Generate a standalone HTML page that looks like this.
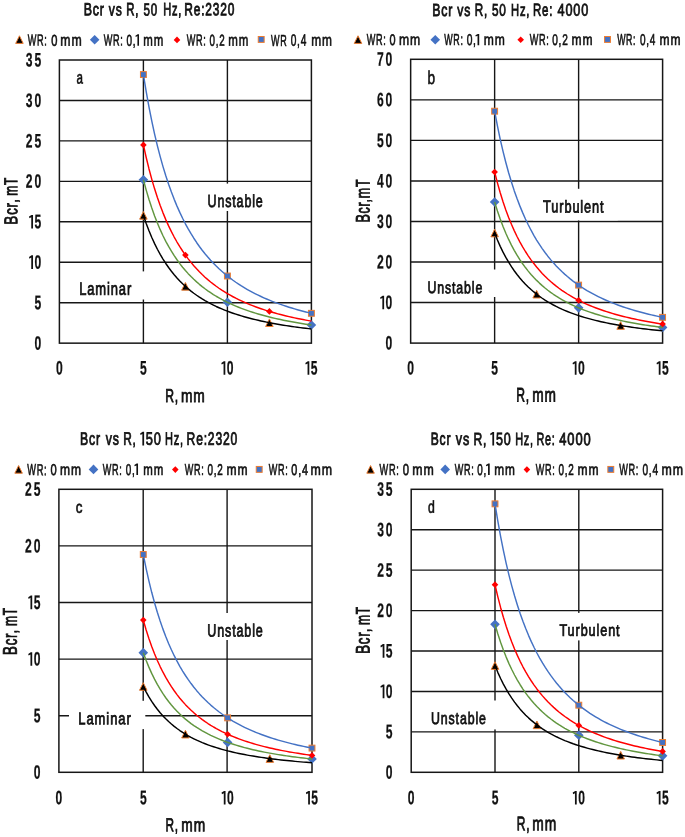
<!DOCTYPE html><html><head><meta charset="utf-8"><style>html,body{margin:0;padding:0;background:#fff}svg{display:block;will-change:transform}text{font-family:"Liberation Sans", sans-serif;fill:#111;stroke:#111;text-rendering:geometricPrecision}</style></head><body>
<svg width="685" height="837" viewBox="0 0 685 837">
<rect width="685" height="837" fill="#fff"/>
<path d="M59.4 302.7H311.4M59.4 262.25H311.4M59.4 221.8H311.4M59.4 181.35H311.4M59.4 140.9H311.4M59.4 100.45H311.4M143.4 60V343.15M227.4 60V343.15" stroke="#161616" stroke-width="1.4" fill="none"/>
<rect x="59.4" y="60" width="252" height="283.15" stroke="#161616" stroke-width="1.5" fill="none"/>
<path d="M143.4 211.53L147.15 219.13L139.65 219.13Z" fill="#000" stroke="#ED7D31" stroke-width="1"/>
<path d="M185.4 282.54L189.15 290.14L181.65 290.14Z" fill="#000" stroke="#ED7D31" stroke-width="1"/>
<path d="M269.4 318.9L273.15 326.5L265.65 326.5Z" fill="#000" stroke="#ED7D31" stroke-width="1"/>
<path d="M143.4 174.93L148.2 179.73L143.4 184.53L138.6 179.73Z" fill="#4472C4"/>
<path d="M227.4 297.5L232.2 302.3L227.4 307.1L222.6 302.3Z" fill="#4472C4"/>
<path d="M311.4 320.19L316.2 324.99L311.4 329.79L306.6 324.99Z" fill="#4472C4"/>
<path d="M143.4 141.59L146.7 144.94L143.4 148.29L140.1 144.94Z" fill="#FF0000"/>
<path d="M185.4 251.71L188.7 255.06L185.4 258.41L182.1 255.06Z" fill="#FF0000"/>
<path d="M269.4 308.09L272.7 311.44L269.4 314.79L266.1 311.44Z" fill="#FF0000"/>
<rect x="140.45" y="71.61" width="5.9" height="5.9" fill="#4472C4" stroke="#ED7D31" stroke-width="1"/>
<rect x="224.45" y="273.05" width="5.9" height="5.9" fill="#4472C4" stroke="#ED7D31" stroke-width="1"/>
<rect x="308.45" y="310.36" width="5.9" height="5.9" fill="#4472C4" stroke="#ED7D31" stroke-width="1"/>
<polyline points="143.4,74.56 146.2,91.61 149,107.09 151.8,121.18 154.6,134.04 157.4,145.82 160.2,156.63 163,166.58 165.8,175.75 168.6,184.22 171.4,192.07 174.2,199.35 177,206.12 179.8,212.41 182.6,218.29 185.4,223.78 188.2,228.91 191,233.72 193.8,238.23 196.6,242.47 199.4,246.46 202.2,250.21 205,253.75 207.8,257.09 210.6,260.25 213.4,263.24 216.2,266.07 219,268.75 221.8,271.29 224.6,273.71 227.4,276 230.2,278.19 233,280.27 235.8,282.25 238.6,284.13 241.4,285.94 244.2,287.66 247,289.3 249.8,290.87 252.6,292.38 255.4,293.82 258.2,295.2 261,296.52 263.8,297.79 266.6,299.01 269.4,300.18 272.2,301.3 275,302.38 277.8,303.42 280.6,304.42 283.4,305.38 286.2,306.31 289,307.2 291.8,308.06 294.6,308.89 297.4,309.69 300.2,310.47 303,311.21 305.8,311.93 308.6,312.63 311.4,313.31" fill="none" stroke="#4472C4" stroke-width="1.45" stroke-linejoin="round"/>
<polyline points="143.4,144.94 146.2,157.53 149,168.95 151.8,179.34 154.6,188.84 157.4,197.53 160.2,205.51 163,212.85 165.8,219.62 168.6,225.87 171.4,231.66 174.2,237.03 177,242.02 179.8,246.67 182.6,251.01 185.4,255.06 188.2,258.85 191,262.4 193.8,265.73 196.6,268.85 199.4,271.8 202.2,274.57 205,277.18 207.8,279.65 210.6,281.98 213.4,284.18 216.2,286.27 219,288.25 221.8,290.12 224.6,291.9 227.4,293.6 230.2,295.21 233,296.74 235.8,298.21 238.6,299.6 241.4,300.93 244.2,302.2 247,303.41 249.8,304.57 252.6,305.68 255.4,306.75 258.2,307.76 261,308.74 263.8,309.68 266.6,310.57 269.4,311.44 272.2,312.27 275,313.06 277.8,313.83 280.6,314.57 283.4,315.28 286.2,315.96 289,316.62 291.8,317.26 294.6,317.87 297.4,318.46 300.2,319.03 303,319.58 305.8,320.11 308.6,320.63 311.4,321.13" fill="none" stroke="#FF0000" stroke-width="1.45" stroke-linejoin="round"/>
<polyline points="143.4,179.73 146.2,190.11 149,199.52 151.8,208.09 154.6,215.92 157.4,223.09 160.2,229.67 163,235.72 165.8,241.3 168.6,246.45 171.4,251.23 174.2,255.66 177,259.77 179.8,263.61 182.6,267.18 185.4,270.52 188.2,273.64 191,276.57 193.8,279.31 196.6,281.89 199.4,284.32 202.2,286.6 205,288.76 207.8,290.79 210.6,292.71 213.4,294.53 216.2,296.25 219,297.88 221.8,299.43 224.6,300.9 227.4,302.3 230.2,303.62 233,304.89 235.8,306.09 238.6,307.24 241.4,308.34 244.2,309.39 247,310.39 249.8,311.34 252.6,312.26 255.4,313.13 258.2,313.97 261,314.78 263.8,315.55 266.6,316.29 269.4,317 272.2,317.69 275,318.34 277.8,318.98 280.6,319.58 283.4,320.17 286.2,320.73 289,321.28 291.8,321.8 294.6,322.31 297.4,322.79 300.2,323.26 303,323.72 305.8,324.16 308.6,324.58 311.4,324.99" fill="none" stroke="#61963F" stroke-width="1.45" stroke-linejoin="round"/>
<polyline points="143.4,215.33 146.2,223.44 149,230.81 151.8,237.51 154.6,243.63 157.4,249.24 160.2,254.38 163,259.12 165.8,263.48 168.6,267.52 171.4,271.25 174.2,274.71 177,277.93 179.8,280.93 182.6,283.73 185.4,286.34 188.2,288.78 191,291.07 193.8,293.22 196.6,295.24 199.4,297.13 202.2,298.92 205,300.61 207.8,302.2 210.6,303.7 213.4,305.12 216.2,306.47 219,307.74 221.8,308.95 224.6,310.1 227.4,311.19 230.2,312.23 233,313.22 235.8,314.17 238.6,315.06 241.4,315.92 244.2,316.74 247,317.52 249.8,318.27 252.6,318.99 255.4,319.67 258.2,320.33 261,320.96 263.8,321.56 266.6,322.14 269.4,322.7 272.2,323.23 275,323.75 277.8,324.24 280.6,324.72 283.4,325.18 286.2,325.62 289,326.04 291.8,326.45 294.6,326.85 297.4,327.23 300.2,327.6 303,327.95 305.8,328.29 308.6,328.63 311.4,328.95" fill="none" stroke="#000" stroke-width="1.45" stroke-linejoin="round"/>
<path d="M19.45 35.8L23.2 43.4L15.7 43.4Z" fill="#000" stroke="#ED7D31" stroke-width="1"/>
<path d="M94.65 34.94L99.45 39.74L94.65 44.54L89.85 39.74Z" fill="#4472C4"/>
<path d="M177 36.55L180.3 39.9L177 43.25L173.7 39.9Z" fill="#FF0000"/>
<rect x="258.25" y="36.5" width="5.9" height="5.9" fill="#4472C4" stroke="#ED7D31" stroke-width="1"/>
<text transform="translate(41.2 349.65) rotate(0.05) scale(0.62 1)" text-anchor="end" font-size="19.5" stroke-width="0.25" font-weight="bold">0</text>
<text transform="translate(41.2 309.2) rotate(0.05) scale(0.62 1)" text-anchor="end" font-size="19.5" stroke-width="0.25" font-weight="bold">5</text>
<text transform="translate(41.2 268.75) rotate(0.05) scale(0.62 1)" text-anchor="end" font-size="19.5" stroke-width="0.25" font-weight="bold">0</text><path transform="translate(29 255.35) scale(0.98)" d="M4.1 0V13.9H2.3V2.3L0.45 3.35L0 1.75L2.6 0Z" fill="#111"/>
<text transform="translate(41.2 228.3) rotate(0.05) scale(0.62 1)" text-anchor="end" font-size="19.5" stroke-width="0.25" font-weight="bold">5</text><path transform="translate(29 214.9) scale(0.98)" d="M4.1 0V13.9H2.3V2.3L0.45 3.35L0 1.75L2.6 0Z" fill="#111"/>
<text transform="translate(41.2 187.85) rotate(0.05) scale(0.62 1)" text-anchor="end" font-size="19.5" stroke-width="0.25" font-weight="bold">2<tspan dx="3">0</tspan></text>
<text transform="translate(41.2 147.4) rotate(0.05) scale(0.62 1)" text-anchor="end" font-size="19.5" stroke-width="0.25" font-weight="bold">2<tspan dx="3">5</tspan></text>
<text transform="translate(41.2 106.95) rotate(0.05) scale(0.62 1)" text-anchor="end" font-size="19.5" stroke-width="0.25" font-weight="bold">3<tspan dx="3">0</tspan></text>
<text transform="translate(41.2 66.5) rotate(0.05) scale(0.62 1)" text-anchor="end" font-size="19.5" stroke-width="0.25" font-weight="bold">3<tspan dx="3">5</tspan></text>
<text transform="translate(59.4 374.6) rotate(0.05) scale(0.62 1)" text-anchor="middle" font-size="19.5" stroke-width="0.25" font-weight="bold">0</text>
<text transform="translate(143.4 374.6) rotate(0.05) scale(0.62 1)" text-anchor="middle" font-size="19.5" stroke-width="0.25" font-weight="bold">5</text>
<text transform="translate(233.5 374.6) rotate(0.05) scale(0.62 1)" text-anchor="end" font-size="19.5" stroke-width="0.25" font-weight="bold">0</text><path transform="translate(221.3 361.2) scale(0.98)" d="M4.1 0V13.9H2.3V2.3L0.45 3.35L0 1.75L2.6 0Z" fill="#111"/>
<text transform="translate(317.5 374.6) rotate(0.05) scale(0.62 1)" text-anchor="end" font-size="19.5" stroke-width="0.25" font-weight="bold">5</text><path transform="translate(305.3 361.2) scale(0.98)" d="M4.1 0V13.9H2.3V2.3L0.45 3.35L0 1.75L2.6 0Z" fill="#111"/>
<path d="M410.65 302.56H662.6M410.65 262.01H662.6M410.65 221.47H662.6M410.65 180.93H662.6M410.65 140.39H662.6M410.65 99.84H662.6M494.63 59.3V343.1M578.62 59.3V343.1" stroke="#161616" stroke-width="1.4" fill="none"/>
<rect x="410.65" y="59.3" width="251.95" height="283.8" stroke="#161616" stroke-width="1.5" fill="none"/>
<path d="M494.63 229.23L498.38 236.83L490.88 236.83Z" fill="#000" stroke="#ED7D31" stroke-width="1"/>
<path d="M536.62 290.38L540.38 297.98L532.88 297.98Z" fill="#000" stroke="#ED7D31" stroke-width="1"/>
<path d="M620.61 321.69L624.36 329.29L616.86 329.29Z" fill="#000" stroke="#ED7D31" stroke-width="1"/>
<path d="M494.63 197.21L499.43 202.01L494.63 206.81L489.83 202.01Z" fill="#4472C4"/>
<path d="M578.62 303.03L583.42 307.83L578.62 312.63L573.82 307.83Z" fill="#4472C4"/>
<path d="M662.6 322.62L667.4 327.42L662.6 332.22L657.8 327.42Z" fill="#4472C4"/>
<path d="M494.63 168.66L497.93 172.01L494.63 175.36L491.33 172.01Z" fill="#FF0000"/>
<path d="M578.62 296.98L581.92 300.33L578.62 303.68L575.32 300.33Z" fill="#FF0000"/>
<path d="M662.6 320.74L665.9 324.09L662.6 327.44L659.3 324.09Z" fill="#FF0000"/>
<rect x="491.68" y="108.24" width="5.9" height="5.9" fill="#4472C4" stroke="#ED7D31" stroke-width="1"/>
<rect x="575.67" y="282.17" width="5.9" height="5.9" fill="#4472C4" stroke="#ED7D31" stroke-width="1"/>
<rect x="659.65" y="314.38" width="5.9" height="5.9" fill="#4472C4" stroke="#ED7D31" stroke-width="1"/>
<polyline points="494.63,111.19 497.43,125.92 500.23,139.28 503.03,151.44 505.83,162.55 508.63,172.72 511.43,182.05 514.23,190.64 517.03,198.56 519.83,205.88 522.63,212.65 525.43,218.94 528.23,224.78 531.03,230.22 533.83,235.29 536.62,240.03 539.42,244.46 542.22,248.62 545.02,252.51 547.82,256.17 550.62,259.61 553.42,262.86 556.22,265.91 559.02,268.8 561.82,271.52 564.62,274.1 567.42,276.55 570.22,278.86 573.02,281.06 575.82,283.14 578.62,285.12 581.42,287.01 584.22,288.8 587.01,290.51 589.81,292.14 592.61,293.7 595.41,295.19 598.21,296.61 601.01,297.96 603.81,299.26 606.61,300.51 609.41,301.7 612.21,302.84 615.01,303.93 617.81,304.99 620.61,306 623.41,306.97 626.21,307.9 629.01,308.79 631.81,309.66 634.61,310.49 637.4,311.29 640.2,312.06 643,312.8 645.8,313.52 648.6,314.21 651.4,314.88 654.2,315.53 657,316.15 659.8,316.75 662.6,317.33" fill="none" stroke="#4472C4" stroke-width="1.45" stroke-linejoin="round"/>
<polyline points="494.63,172.01 497.43,182.87 500.23,192.73 503.03,201.7 505.83,209.9 508.63,217.4 511.43,224.29 514.23,230.62 517.03,236.46 519.83,241.86 522.63,246.86 525.43,251.5 528.23,255.81 531.03,259.82 533.83,263.56 536.62,267.06 539.42,270.33 542.22,273.39 545.02,276.27 547.82,278.97 550.62,281.51 553.42,283.9 556.22,286.15 559.02,288.28 561.82,290.29 564.62,292.2 567.42,294 570.22,295.71 573.02,297.33 575.82,298.87 578.62,300.33 581.42,301.72 584.22,303.04 587.01,304.3 589.81,305.51 592.61,306.65 595.41,307.75 598.21,308.8 601.01,309.8 603.81,310.76 606.61,311.68 609.41,312.55 612.21,313.4 615.01,314.2 617.81,314.98 620.61,315.73 623.41,316.44 626.21,317.13 629.01,317.79 631.81,318.43 634.61,319.04 637.4,319.63 640.2,320.2 643,320.75 645.8,321.28 648.6,321.79 651.4,322.28 654.2,322.76 657,323.22 659.8,323.66 662.6,324.09" fill="none" stroke="#FF0000" stroke-width="1.45" stroke-linejoin="round"/>
<polyline points="494.63,202.01 497.43,210.97 500.23,219.1 503.03,226.5 505.83,233.26 508.63,239.44 511.43,245.12 514.23,250.35 517.03,255.16 519.83,259.62 522.63,263.74 525.43,267.56 528.23,271.12 531.03,274.42 533.83,277.51 536.62,280.39 539.42,283.09 542.22,285.62 545.02,287.99 547.82,290.21 550.62,292.31 553.42,294.28 556.22,296.14 559.02,297.9 561.82,299.55 564.62,301.12 567.42,302.61 570.22,304.02 573.02,305.35 575.82,306.62 578.62,307.83 581.42,308.97 584.22,310.07 587.01,311.11 589.81,312.1 592.61,313.05 595.41,313.95 598.21,314.81 601.01,315.64 603.81,316.43 606.61,317.19 609.41,317.91 612.21,318.61 615.01,319.27 617.81,319.91 620.61,320.53 623.41,321.12 626.21,321.68 629.01,322.23 631.81,322.75 634.61,323.26 637.4,323.75 640.2,324.22 643,324.67 645.8,325.1 648.6,325.52 651.4,325.93 654.2,326.32 657,326.7 659.8,327.07 662.6,327.42" fill="none" stroke="#61963F" stroke-width="1.45" stroke-linejoin="round"/>
<polyline points="494.63,233.03 497.43,240.01 500.23,246.36 503.03,252.13 505.83,257.4 508.63,262.23 511.43,266.66 514.23,270.74 517.03,274.49 519.83,277.97 522.63,281.18 525.43,284.17 528.23,286.94 531.03,289.52 533.83,291.93 536.62,294.18 539.42,296.28 542.22,298.25 545.02,300.1 547.82,301.84 550.62,303.47 553.42,305.01 556.22,306.46 559.02,307.83 561.82,309.13 564.62,310.35 567.42,311.51 570.22,312.61 573.02,313.65 575.82,314.64 578.62,315.58 581.42,316.48 584.22,317.33 587.01,318.14 589.81,318.91 592.61,319.65 595.41,320.36 598.21,321.03 601.01,321.68 603.81,322.29 606.61,322.88 609.41,323.45 612.21,323.99 615.01,324.51 617.81,325.01 620.61,325.49 623.41,325.95 626.21,326.39 629.01,326.82 631.81,327.23 634.61,327.62 637.4,328 640.2,328.37 643,328.72 645.8,329.06 648.6,329.39 651.4,329.71 654.2,330.01 657,330.31 659.8,330.59 662.6,330.87" fill="none" stroke="#000" stroke-width="1.45" stroke-linejoin="round"/>
<path d="M358 35.8L361.75 43.4L354.25 43.4Z" fill="#000" stroke="#ED7D31" stroke-width="1"/>
<path d="M435.25 34.9L440.05 39.7L435.25 44.5L430.45 39.7Z" fill="#4472C4"/>
<path d="M520.7 36.4L524 39.75L520.7 43.1L517.4 39.75Z" fill="#FF0000"/>
<rect x="604.55" y="36.5" width="5.9" height="5.9" fill="#4472C4" stroke="#ED7D31" stroke-width="1"/>
<text transform="translate(392.3 349.6) rotate(0.05) scale(0.62 1)" text-anchor="end" font-size="19.5" stroke-width="0.25" font-weight="bold">0</text>
<text transform="translate(392.3 309.06) rotate(0.05) scale(0.62 1)" text-anchor="end" font-size="19.5" stroke-width="0.25" font-weight="bold">0</text><path transform="translate(380.1 295.66) scale(0.98)" d="M4.1 0V13.9H2.3V2.3L0.45 3.35L0 1.75L2.6 0Z" fill="#111"/>
<text transform="translate(392.3 268.51) rotate(0.05) scale(0.62 1)" text-anchor="end" font-size="19.5" stroke-width="0.25" font-weight="bold">2<tspan dx="3">0</tspan></text>
<text transform="translate(392.3 227.97) rotate(0.05) scale(0.62 1)" text-anchor="end" font-size="19.5" stroke-width="0.25" font-weight="bold">3<tspan dx="3">0</tspan></text>
<text transform="translate(392.3 187.43) rotate(0.05) scale(0.62 1)" text-anchor="end" font-size="19.5" stroke-width="0.25" font-weight="bold">4<tspan dx="3">0</tspan></text>
<text transform="translate(392.3 146.89) rotate(0.05) scale(0.62 1)" text-anchor="end" font-size="19.5" stroke-width="0.25" font-weight="bold">5<tspan dx="3">0</tspan></text>
<text transform="translate(392.3 106.34) rotate(0.05) scale(0.62 1)" text-anchor="end" font-size="19.5" stroke-width="0.25" font-weight="bold">6<tspan dx="3">0</tspan></text>
<text transform="translate(392.3 65.8) rotate(0.05) scale(0.62 1)" text-anchor="end" font-size="19.5" stroke-width="0.25" font-weight="bold">7<tspan dx="3">0</tspan></text>
<text transform="translate(410.65 374.6) rotate(0.05) scale(0.62 1)" text-anchor="middle" font-size="19.5" stroke-width="0.25" font-weight="bold">0</text>
<text transform="translate(494.63 374.6) rotate(0.05) scale(0.62 1)" text-anchor="middle" font-size="19.5" stroke-width="0.25" font-weight="bold">5</text>
<text transform="translate(584.72 374.6) rotate(0.05) scale(0.62 1)" text-anchor="end" font-size="19.5" stroke-width="0.25" font-weight="bold">0</text><path transform="translate(572.52 361.2) scale(0.98)" d="M4.1 0V13.9H2.3V2.3L0.45 3.35L0 1.75L2.6 0Z" fill="#111"/>
<text transform="translate(668.7 374.6) rotate(0.05) scale(0.62 1)" text-anchor="end" font-size="19.5" stroke-width="0.25" font-weight="bold">5</text><path transform="translate(656.5 361.2) scale(0.98)" d="M4.1 0V13.9H2.3V2.3L0.45 3.35L0 1.75L2.6 0Z" fill="#111"/>
<path d="M58.9 715.7H312M58.9 659.1H312M58.9 602.5H312M58.9 545.9H312M143.2 489.3V772.3M227.1 489.3V772.3" stroke="#161616" stroke-width="1.4" fill="none"/>
<rect x="58.9" y="489.3" width="253.1" height="283" stroke="#161616" stroke-width="1.5" fill="none"/>
<path d="M143.27 682.69L147.02 690.29L139.52 690.29Z" fill="#000" stroke="#ED7D31" stroke-width="1"/>
<path d="M185.45 730.36L189.2 737.96L181.7 737.96Z" fill="#000" stroke="#ED7D31" stroke-width="1"/>
<path d="M269.82 754.77L273.57 762.37L266.07 762.37Z" fill="#000" stroke="#ED7D31" stroke-width="1"/>
<path d="M143.27 647.85L148.07 652.65L143.27 657.45L138.47 652.65Z" fill="#4472C4"/>
<path d="M227.63 737.59L232.43 742.39L227.63 747.19L222.83 742.39Z" fill="#4472C4"/>
<path d="M312 754.21L316.8 759.01L312 763.81L307.2 759.01Z" fill="#4472C4"/>
<path d="M143.27 616.7L146.57 620.05L143.27 623.4L139.97 620.05Z" fill="#FF0000"/>
<path d="M227.63 730.89L230.93 734.24L227.63 737.59L224.33 734.24Z" fill="#FF0000"/>
<path d="M312 752.03L315.3 755.38L312 758.73L308.7 755.38Z" fill="#FF0000"/>
<rect x="140.32" y="551.55" width="5.9" height="5.9" fill="#4472C4" stroke="#ED7D31" stroke-width="1"/>
<rect x="224.68" y="714.9" width="5.9" height="5.9" fill="#4472C4" stroke="#ED7D31" stroke-width="1"/>
<rect x="309.05" y="745.15" width="5.9" height="5.9" fill="#4472C4" stroke="#ED7D31" stroke-width="1"/>
<polyline points="143.27,554.5 146.08,568.33 148.89,580.88 151.7,592.3 154.52,602.74 157.33,612.29 160.14,621.05 162.95,629.12 165.76,636.55 168.58,643.43 171.39,649.79 174.2,655.69 177.01,661.18 179.83,666.29 182.64,671.05 185.45,675.5 188.26,679.66 191.07,683.56 193.89,687.22 196.7,690.66 199.51,693.89 202.32,696.94 205.14,699.81 207.95,702.52 210.76,705.08 213.57,707.5 216.38,709.79 219.2,711.97 222.01,714.03 224.82,715.99 227.63,717.85 230.45,719.62 233.26,721.31 236.07,722.91 238.88,724.44 241.69,725.91 244.51,727.3 247.32,728.63 250.13,729.91 252.94,731.13 255.76,732.3 258.57,733.42 261.38,734.49 264.19,735.52 267,736.5 269.82,737.45 272.63,738.36 275.44,739.24 278.25,740.08 281.07,740.89 283.88,741.67 286.69,742.42 289.5,743.15 292.31,743.85 295.13,744.52 297.94,745.17 300.75,745.8 303.56,746.4 306.38,746.99 309.19,747.55 312,748.1" fill="none" stroke="#4472C4" stroke-width="1.45" stroke-linejoin="round"/>
<polyline points="143.27,620.05 146.08,629.71 148.89,638.48 151.7,646.47 154.52,653.76 157.33,660.44 160.14,666.57 162.95,672.21 165.76,677.4 168.58,682.21 171.39,686.66 174.2,690.78 177.01,694.62 179.83,698.19 182.64,701.52 185.45,704.63 188.26,707.54 191.07,710.27 193.89,712.83 196.7,715.23 199.51,717.49 202.32,719.62 205.14,721.62 207.95,723.52 210.76,725.31 213.57,727 216.38,728.6 219.2,730.12 222.01,731.57 224.82,732.94 227.63,734.24 230.45,735.47 233.26,736.65 236.07,737.78 238.88,738.85 241.69,739.87 244.51,740.84 247.32,741.77 250.13,742.67 252.94,743.52 255.76,744.33 258.57,745.12 261.38,745.87 264.19,746.59 267,747.28 269.82,747.94 272.63,748.58 275.44,749.19 278.25,749.78 281.07,750.34 283.88,750.89 286.69,751.41 289.5,751.92 292.31,752.41 295.13,752.88 297.94,753.33 300.75,753.77 303.56,754.2 306.38,754.61 309.19,755 312,755.38" fill="none" stroke="#FF0000" stroke-width="1.45" stroke-linejoin="round"/>
<polyline points="143.27,652.65 146.08,660.24 148.89,667.14 151.7,673.41 154.52,679.15 157.33,684.39 160.14,689.21 162.95,693.64 165.76,697.72 168.58,701.5 171.39,705 174.2,708.24 177.01,711.25 179.83,714.06 182.64,716.68 185.45,719.12 188.26,721.41 191.07,723.55 193.89,725.56 196.7,727.45 199.51,729.23 202.32,730.9 205.14,732.47 207.95,733.96 210.76,735.37 213.57,736.7 216.38,737.96 219.2,739.16 222.01,740.29 224.82,741.36 227.63,742.39 230.45,743.36 233.26,744.29 236.07,745.17 238.88,746.01 241.69,746.81 244.51,747.58 247.32,748.31 250.13,749.01 252.94,749.68 255.76,750.32 258.57,750.94 261.38,751.53 264.19,752.09 267,752.63 269.82,753.16 272.63,753.66 275.44,754.14 278.25,754.6 281.07,755.05 283.88,755.47 286.69,755.89 289.5,756.28 292.31,756.67 295.13,757.04 297.94,757.4 300.75,757.74 303.56,758.07 306.38,758.39 309.19,758.7 312,759.01" fill="none" stroke="#61963F" stroke-width="1.45" stroke-linejoin="round"/>
<polyline points="143.27,686.49 146.08,691.94 148.89,696.88 151.7,701.39 154.52,705.5 157.33,709.26 160.14,712.71 162.95,715.89 165.76,718.82 168.58,721.53 171.39,724.03 174.2,726.36 177.01,728.52 179.83,730.53 182.64,732.41 185.45,734.16 188.26,735.8 191.07,737.34 193.89,738.78 196.7,740.14 199.51,741.41 202.32,742.61 205.14,743.74 207.95,744.81 210.76,745.82 213.57,746.77 216.38,747.67 219.2,748.53 222.01,749.34 224.82,750.12 227.63,750.85 230.45,751.55 233.26,752.21 236.07,752.84 238.88,753.45 241.69,754.02 244.51,754.57 247.32,755.1 250.13,755.6 252.94,756.08 255.76,756.54 258.57,756.98 261.38,757.4 264.19,757.81 267,758.2 269.82,758.57 272.63,758.93 275.44,759.28 278.25,759.61 281.07,759.93 283.88,760.23 286.69,760.53 289.5,760.82 292.31,761.09 295.13,761.36 297.94,761.61 300.75,761.86 303.56,762.1 306.38,762.33 309.19,762.55 312,762.77" fill="none" stroke="#000" stroke-width="1.45" stroke-linejoin="round"/>
<path d="M18.6 465.6L22.35 473.2L14.85 473.2Z" fill="#000" stroke="#ED7D31" stroke-width="1"/>
<path d="M93.5 464.6L98.3 469.4L93.5 474.2L88.7 469.4Z" fill="#4472C4"/>
<path d="M175.3 466.25L178.6 469.6L175.3 472.95L172 469.6Z" fill="#FF0000"/>
<rect x="256.25" y="466.45" width="5.9" height="5.9" fill="#4472C4" stroke="#ED7D31" stroke-width="1"/>
<text transform="translate(40.4 778.8) rotate(0.05) scale(0.62 1)" text-anchor="end" font-size="19.5" stroke-width="0.25" font-weight="bold">0</text>
<text transform="translate(40.4 722.2) rotate(0.05) scale(0.62 1)" text-anchor="end" font-size="19.5" stroke-width="0.25" font-weight="bold">5</text>
<text transform="translate(40.4 665.6) rotate(0.05) scale(0.62 1)" text-anchor="end" font-size="19.5" stroke-width="0.25" font-weight="bold">0</text><path transform="translate(28.2 652.2) scale(0.98)" d="M4.1 0V13.9H2.3V2.3L0.45 3.35L0 1.75L2.6 0Z" fill="#111"/>
<text transform="translate(40.4 609) rotate(0.05) scale(0.62 1)" text-anchor="end" font-size="19.5" stroke-width="0.25" font-weight="bold">5</text><path transform="translate(28.2 595.6) scale(0.98)" d="M4.1 0V13.9H2.3V2.3L0.45 3.35L0 1.75L2.6 0Z" fill="#111"/>
<text transform="translate(40.4 552.4) rotate(0.05) scale(0.62 1)" text-anchor="end" font-size="19.5" stroke-width="0.25" font-weight="bold">2<tspan dx="3">0</tspan></text>
<text transform="translate(40.4 495.8) rotate(0.05) scale(0.62 1)" text-anchor="end" font-size="19.5" stroke-width="0.25" font-weight="bold">2<tspan dx="3">5</tspan></text>
<text transform="translate(58.9 804.3) rotate(0.05) scale(0.62 1)" text-anchor="middle" font-size="19.5" stroke-width="0.25" font-weight="bold">0</text>
<text transform="translate(143.27 804.3) rotate(0.05) scale(0.62 1)" text-anchor="middle" font-size="19.5" stroke-width="0.25" font-weight="bold">5</text>
<text transform="translate(233.73 804.3) rotate(0.05) scale(0.62 1)" text-anchor="end" font-size="19.5" stroke-width="0.25" font-weight="bold">0</text><path transform="translate(221.53 790.9) scale(0.98)" d="M4.1 0V13.9H2.3V2.3L0.45 3.35L0 1.75L2.6 0Z" fill="#111"/>
<text transform="translate(318.1 804.3) rotate(0.05) scale(0.62 1)" text-anchor="end" font-size="19.5" stroke-width="0.25" font-weight="bold">5</text><path transform="translate(305.9 790.9) scale(0.98)" d="M4.1 0V13.9H2.3V2.3L0.45 3.35L0 1.75L2.6 0Z" fill="#111"/>
<path d="M411.2 731.87H662.6M411.2 691.44H662.6M411.2 651.01H662.6M411.2 610.59H662.6M411.2 570.16H662.6M411.2 529.73H662.6M495 489.3V772.3M578.8 489.3V772.3" stroke="#161616" stroke-width="1.4" fill="none"/>
<rect x="411.2" y="489.3" width="251.4" height="283" stroke="#161616" stroke-width="1.5" fill="none"/>
<path d="M495 661.77L498.75 669.37L491.25 669.37Z" fill="#000" stroke="#ED7D31" stroke-width="1"/>
<path d="M536.9 721.06L540.65 728.66L533.15 728.66Z" fill="#000" stroke="#ED7D31" stroke-width="1"/>
<path d="M620.7 751.42L624.45 759.02L616.95 759.02Z" fill="#000" stroke="#ED7D31" stroke-width="1"/>
<path d="M495 619.53L499.8 624.33L495 629.13L490.2 624.33Z" fill="#4472C4"/>
<path d="M578.8 730.51L583.6 735.31L578.8 740.11L574 735.31Z" fill="#4472C4"/>
<path d="M662.6 751.06L667.4 755.86L662.6 760.66L657.8 755.86Z" fill="#4472C4"/>
<path d="M495 581.36L498.3 584.71L495 588.06L491.7 584.71Z" fill="#FF0000"/>
<path d="M578.8 722.05L582.1 725.4L578.8 728.75L575.5 725.4Z" fill="#FF0000"/>
<path d="M662.6 748.11L665.9 751.46L662.6 754.81L659.3 751.46Z" fill="#FF0000"/>
<rect x="492.05" y="500.9" width="5.9" height="5.9" fill="#4472C4" stroke="#ED7D31" stroke-width="1"/>
<rect x="575.85" y="702.24" width="5.9" height="5.9" fill="#4472C4" stroke="#ED7D31" stroke-width="1"/>
<rect x="659.65" y="739.52" width="5.9" height="5.9" fill="#4472C4" stroke="#ED7D31" stroke-width="1"/>
<polyline points="495,503.85 497.79,520.89 500.59,536.36 503.38,550.44 506.17,563.3 508.97,575.07 511.76,585.88 514.55,595.82 517.35,604.99 520.14,613.46 522.93,621.3 525.73,628.58 528.52,635.34 531.31,641.63 534.11,647.51 536.9,652.99 539.69,658.12 542.49,662.93 545.28,667.44 548.07,671.67 550.87,675.66 553.66,679.41 556.45,682.95 559.25,686.29 562.04,689.45 564.83,692.43 567.63,695.26 570.42,697.94 573.21,700.48 576.01,702.89 578.8,705.19 581.59,707.37 584.39,709.45 587.18,711.43 589.97,713.32 592.77,715.12 595.56,716.84 598.35,718.48 601.15,720.05 603.94,721.55 606.73,722.99 609.53,724.37 612.32,725.69 615.11,726.96 617.91,728.18 620.7,729.35 623.49,730.47 626.29,731.55 629.08,732.59 631.87,733.59 634.67,734.55 637.46,735.48 640.25,736.37 643.05,737.23 645.84,738.06 648.63,738.86 651.43,739.63 654.22,740.38 657.01,741.1 659.81,741.8 662.6,742.47" fill="none" stroke="#4472C4" stroke-width="1.45" stroke-linejoin="round"/>
<polyline points="495,584.71 497.79,596.62 500.59,607.43 503.38,617.27 506.17,626.25 508.97,634.48 511.76,642.03 514.55,648.98 517.35,655.38 520.14,661.3 522.93,666.78 525.73,671.87 528.52,676.59 531.31,680.99 534.11,685.09 536.9,688.93 539.69,692.51 542.49,695.87 545.28,699.02 548.07,701.98 550.87,704.77 553.66,707.39 556.45,709.86 559.25,712.2 562.04,714.4 564.83,716.49 567.63,718.46 570.42,720.34 573.21,722.11 576.01,723.8 578.8,725.4 581.59,726.93 584.39,728.38 587.18,729.76 589.97,731.08 592.77,732.34 595.56,733.54 598.35,734.69 601.15,735.79 603.94,736.84 606.73,737.84 609.53,738.81 612.32,739.73 615.11,740.62 617.91,741.47 620.7,742.29 623.49,743.07 626.29,743.82 629.08,744.55 631.87,745.25 634.67,745.92 637.46,746.57 640.25,747.19 643.05,747.79 645.84,748.37 648.63,748.93 651.43,749.47 654.22,749.99 657.01,750.5 659.81,750.99 662.6,751.46" fill="none" stroke="#FF0000" stroke-width="1.45" stroke-linejoin="round"/>
<polyline points="495,624.33 497.79,633.72 500.59,642.25 503.38,650.01 506.17,657.1 508.97,663.59 511.76,669.54 514.55,675.02 517.35,680.08 520.14,684.74 522.93,689.07 525.73,693.08 528.52,696.81 531.31,700.28 534.11,703.51 536.9,706.54 539.69,709.36 542.49,712.01 545.28,714.5 548.07,716.83 550.87,719.03 553.66,721.1 556.45,723.05 559.25,724.89 562.04,726.63 564.83,728.28 567.63,729.83 570.42,731.31 573.21,732.71 576.01,734.04 578.8,735.31 581.59,736.51 584.39,737.66 587.18,738.75 589.97,739.79 592.77,740.78 595.56,741.73 598.35,742.63 601.15,743.5 603.94,744.33 606.73,745.12 609.53,745.88 612.32,746.61 615.11,747.31 617.91,747.98 620.7,748.63 623.49,749.24 626.29,749.84 629.08,750.41 631.87,750.96 634.67,751.49 637.46,752 640.25,752.49 643.05,752.97 645.84,753.43 648.63,753.87 651.43,754.29 654.22,754.71 657.01,755.1 659.81,755.49 662.6,755.86" fill="none" stroke="#61963F" stroke-width="1.45" stroke-linejoin="round"/>
<polyline points="495,665.57 497.79,672.34 500.59,678.49 503.38,684.09 506.17,689.2 508.97,693.89 511.76,698.18 514.55,702.13 517.35,705.78 520.14,709.15 522.93,712.26 525.73,715.16 528.52,717.85 531.31,720.35 534.11,722.68 536.9,724.86 539.69,726.9 542.49,728.82 545.28,730.61 548.07,732.29 550.87,733.88 553.66,735.37 556.45,736.78 559.25,738.1 562.04,739.36 564.83,740.55 567.63,741.67 570.42,742.73 573.21,743.75 576.01,744.7 578.8,745.62 581.59,746.48 584.39,747.31 587.18,748.1 589.97,748.85 592.77,749.56 595.56,750.25 598.35,750.9 601.15,751.53 603.94,752.12 606.73,752.7 609.53,753.24 612.32,753.77 615.11,754.27 617.91,754.76 620.7,755.22 623.49,755.67 626.29,756.1 629.08,756.51 631.87,756.91 634.67,757.29 637.46,757.66 640.25,758.01 643.05,758.36 645.84,758.69 648.63,759 651.43,759.31 654.22,759.61 657.01,759.9 659.81,760.17 662.6,760.44" fill="none" stroke="#000" stroke-width="1.45" stroke-linejoin="round"/>
<path d="M370.55 465.6L374.3 473.2L366.8 473.2Z" fill="#000" stroke="#ED7D31" stroke-width="1"/>
<path d="M445.2 464.6L450 469.4L445.2 474.2L440.4 469.4Z" fill="#4472C4"/>
<path d="M526.9 466.25L530.2 469.6L526.9 472.95L523.6 469.6Z" fill="#FF0000"/>
<rect x="607.85" y="466.45" width="5.9" height="5.9" fill="#4472C4" stroke="#ED7D31" stroke-width="1"/>
<text transform="translate(392.6 778.8) rotate(0.05) scale(0.62 1)" text-anchor="end" font-size="19.5" stroke-width="0.25" font-weight="bold">0</text>
<text transform="translate(392.6 738.37) rotate(0.05) scale(0.62 1)" text-anchor="end" font-size="19.5" stroke-width="0.25" font-weight="bold">5</text>
<text transform="translate(392.6 697.94) rotate(0.05) scale(0.62 1)" text-anchor="end" font-size="19.5" stroke-width="0.25" font-weight="bold">0</text><path transform="translate(380.4 684.54) scale(0.98)" d="M4.1 0V13.9H2.3V2.3L0.45 3.35L0 1.75L2.6 0Z" fill="#111"/>
<text transform="translate(392.6 657.51) rotate(0.05) scale(0.62 1)" text-anchor="end" font-size="19.5" stroke-width="0.25" font-weight="bold">5</text><path transform="translate(380.4 644.11) scale(0.98)" d="M4.1 0V13.9H2.3V2.3L0.45 3.35L0 1.75L2.6 0Z" fill="#111"/>
<text transform="translate(392.6 617.09) rotate(0.05) scale(0.62 1)" text-anchor="end" font-size="19.5" stroke-width="0.25" font-weight="bold">2<tspan dx="3">0</tspan></text>
<text transform="translate(392.6 576.66) rotate(0.05) scale(0.62 1)" text-anchor="end" font-size="19.5" stroke-width="0.25" font-weight="bold">2<tspan dx="3">5</tspan></text>
<text transform="translate(392.6 536.23) rotate(0.05) scale(0.62 1)" text-anchor="end" font-size="19.5" stroke-width="0.25" font-weight="bold">3<tspan dx="3">0</tspan></text>
<text transform="translate(392.6 495.8) rotate(0.05) scale(0.62 1)" text-anchor="end" font-size="19.5" stroke-width="0.25" font-weight="bold">3<tspan dx="3">5</tspan></text>
<text transform="translate(411.2 804.3) rotate(0.05) scale(0.62 1)" text-anchor="middle" font-size="19.5" stroke-width="0.25" font-weight="bold">0</text>
<text transform="translate(495 804.3) rotate(0.05) scale(0.62 1)" text-anchor="middle" font-size="19.5" stroke-width="0.25" font-weight="bold">5</text>
<text transform="translate(584.9 804.3) rotate(0.05) scale(0.62 1)" text-anchor="end" font-size="19.5" stroke-width="0.25" font-weight="bold">0</text><path transform="translate(572.7 790.9) scale(0.98)" d="M4.1 0V13.9H2.3V2.3L0.45 3.35L0 1.75L2.6 0Z" fill="#111"/>
<text transform="translate(668.7 804.3) rotate(0.05) scale(0.62 1)" text-anchor="end" font-size="19.5" stroke-width="0.25" font-weight="bold">5</text><path transform="translate(656.5 790.9) scale(0.98)" d="M4.1 0V13.9H2.3V2.3L0.45 3.35L0 1.75L2.6 0Z" fill="#111"/>
<rect x="198" y="183.6" width="78.5" height="27.4" fill="#fff"/>
<rect x="69.9" y="271.4" width="75.5" height="28.1" fill="#fff"/>
<rect x="533.1" y="188.8" width="84.7" height="31.6" fill="#fff"/>
<rect x="417.9" y="269.5" width="78.1" height="27.5" fill="#fff"/>
<rect x="198" y="613" width="78.5" height="27" fill="#fff"/>
<rect x="69" y="700.8" width="76.3" height="28.3" fill="#fff"/>
<rect x="549.3" y="612.9" width="84.5" height="27.5" fill="#fff"/>
<rect x="421.6" y="700.5" width="78.1" height="28.9" fill="#fff"/>
<text transform="translate(83.67 15.31) rotate(0.05)" font-size="17.49" textLength="21.19" lengthAdjust="spacingAndGlyphs" stroke-width="0.85" letter-spacing="1.2">Bcr</text>
<text transform="translate(108.82 15.38) rotate(0.05)" font-size="17.53" textLength="13.74" lengthAdjust="spacingAndGlyphs" stroke-width="0.85" letter-spacing="1.2">vs</text>
<text transform="translate(126.36 15.32) rotate(0.05)" font-size="17.8" textLength="12.92" lengthAdjust="spacingAndGlyphs" stroke-width="0.85" letter-spacing="1.2">R,</text>
<text transform="translate(143.42 15.43) rotate(0.05)" font-size="17.33" textLength="14.49" lengthAdjust="spacingAndGlyphs" stroke-width="0.85" letter-spacing="1.2">50</text>
<text transform="translate(163.15 15.32) rotate(0.05)" font-size="17.87" textLength="18.81" lengthAdjust="spacingAndGlyphs" stroke-width="0.85" letter-spacing="1.2">Hz,</text>
<text transform="translate(184.3 15.32) rotate(0.05)" font-size="17.53" textLength="50.9" lengthAdjust="spacingAndGlyphs" stroke-width="0.85" letter-spacing="1.2">Re:2320</text>
<text transform="translate(432.14 15.91) rotate(0.05)" font-size="17.47" textLength="20.99" lengthAdjust="spacingAndGlyphs" stroke-width="0.85" letter-spacing="1.2">Bcr</text>
<text transform="translate(457.22 15.9) rotate(0.05)" font-size="17.25" textLength="13.92" lengthAdjust="spacingAndGlyphs" stroke-width="0.85" letter-spacing="1.2">vs</text>
<text transform="translate(474.73 15.65) rotate(0.05)" font-size="17.48" textLength="13.24" lengthAdjust="spacingAndGlyphs" stroke-width="0.85" letter-spacing="1.2">R,</text>
<text transform="translate(491.89 15.65) rotate(0.05)" font-size="17.02" textLength="14.76" lengthAdjust="spacingAndGlyphs" stroke-width="0.85" letter-spacing="1.2">50</text>
<text transform="translate(511.12 15.65) rotate(0.05)" font-size="17.01" textLength="19.12" lengthAdjust="spacingAndGlyphs" stroke-width="0.85" letter-spacing="1.2">Hz,</text>
<text transform="translate(533.03 15.71) rotate(0.05)" font-size="17.47" textLength="20.15" lengthAdjust="spacingAndGlyphs" stroke-width="0.85" letter-spacing="1.2">Re:</text>
<text transform="translate(557.47 15.65) rotate(0.05)" font-size="17.25" textLength="31.73" lengthAdjust="spacingAndGlyphs" stroke-width="0.85" letter-spacing="1.2">4000</text>
<text transform="translate(80.06 444.67) rotate(0.05)" font-size="17.9" textLength="20.87" lengthAdjust="spacingAndGlyphs" stroke-width="0.85" letter-spacing="1.2">Bcr</text>
<text transform="translate(105.7 444.65) rotate(0.05)" font-size="17.91" textLength="13.98" lengthAdjust="spacingAndGlyphs" stroke-width="0.85" letter-spacing="1.2">vs</text>
<text transform="translate(123.27 444.67) rotate(0.05)" font-size="18.08" textLength="13.42" lengthAdjust="spacingAndGlyphs" stroke-width="0.85" letter-spacing="1.2">R,</text>
<text transform="translate(145.71 444.81) rotate(0.05)" font-size="17.85" textLength="16" lengthAdjust="spacingAndGlyphs" stroke-width="0.85" letter-spacing="1.2">50</text>
<text transform="translate(165.12 444.67) rotate(0.05)" font-size="18.07" textLength="18.72" lengthAdjust="spacingAndGlyphs" stroke-width="0.85" letter-spacing="1.2">Hz,</text>
<text transform="translate(186.61 444.67) rotate(0.05)" font-size="17.91" textLength="51.42" lengthAdjust="spacingAndGlyphs" stroke-width="0.85" letter-spacing="1.2">Re:2320</text>
<text transform="translate(430.7 444.84) rotate(0.05)" font-size="17.63" textLength="20.59" lengthAdjust="spacingAndGlyphs" stroke-width="0.85" letter-spacing="1.2">Bcr</text>
<text transform="translate(455.83 444.87) rotate(0.05)" font-size="17.63" textLength="14.28" lengthAdjust="spacingAndGlyphs" stroke-width="0.85" letter-spacing="1.2">vs</text>
<text transform="translate(473.41 445.11) rotate(0.05)" font-size="17.58" textLength="13.76" lengthAdjust="spacingAndGlyphs" stroke-width="0.85" letter-spacing="1.2">R,</text>
<text transform="translate(495.88 444.91) rotate(0.05)" font-size="17.67" textLength="15.62" lengthAdjust="spacingAndGlyphs" stroke-width="0.85" letter-spacing="1.2">50</text>
<text transform="translate(515.15 445.11) rotate(0.05)" font-size="17.69" textLength="18.54" lengthAdjust="spacingAndGlyphs" stroke-width="0.85" letter-spacing="1.2">Hz,</text>
<text transform="translate(536.38 445.05) rotate(0.05)" font-size="17.74" textLength="19.12" lengthAdjust="spacingAndGlyphs" stroke-width="0.85" letter-spacing="1.2">Re:</text>
<text transform="translate(559.29 445.11) rotate(0.05)" font-size="17.63" textLength="32.31" lengthAdjust="spacingAndGlyphs" stroke-width="0.85" letter-spacing="1.2">4000</text>
<text transform="translate(27.67 45.45) rotate(0.05)" font-size="15.97" textLength="19.75" lengthAdjust="spacingAndGlyphs" stroke-width="0.65" letter-spacing="1.2">WR:</text>
<text transform="translate(51.16 45.65) rotate(0.05)" font-size="15.65" textLength="7.02" lengthAdjust="spacingAndGlyphs" stroke-width="0.65" letter-spacing="1.2">0</text>
<text transform="translate(60.26 45.67) rotate(0.05)" font-size="16.44" textLength="22.3" lengthAdjust="spacingAndGlyphs" stroke-width="0.65" letter-spacing="1.2">mm</text>
<text transform="translate(103.67 45.45) rotate(0.05)" font-size="15.97" textLength="19.75" lengthAdjust="spacingAndGlyphs" stroke-width="0.65" letter-spacing="1.2">WR:</text>
<text transform="translate(126.54 45.67) rotate(0.05)" font-size="15.65" textLength="9.83" lengthAdjust="spacingAndGlyphs" stroke-width="0.65" letter-spacing="1.2">0,</text>
<text transform="translate(143.36 45.65) rotate(0.05)" font-size="16.44" textLength="20.79" lengthAdjust="spacingAndGlyphs" stroke-width="0.65" letter-spacing="1.2">mm</text>
<text transform="translate(186.67 45.45) rotate(0.05)" font-size="15.97" textLength="19.75" lengthAdjust="spacingAndGlyphs" stroke-width="0.65" letter-spacing="1.2">WR:</text>
<text transform="translate(209.53 45.67) rotate(0.05)" font-size="15.87" textLength="15.8" lengthAdjust="spacingAndGlyphs" stroke-width="0.65" letter-spacing="1.2">0,2</text>
<text transform="translate(228.37 45.66) rotate(0.05)" font-size="16.44" textLength="20.85" lengthAdjust="spacingAndGlyphs" stroke-width="0.65" letter-spacing="1.2">mm</text>
<text transform="translate(271.09 46.01) rotate(0.05)" font-size="16.05" textLength="16.32" lengthAdjust="spacingAndGlyphs" stroke-width="0.65" letter-spacing="1.2">WR</text>
<text transform="translate(290.74 45.67) rotate(0.05)" font-size="16.44" textLength="16.32" lengthAdjust="spacingAndGlyphs" stroke-width="0.65" letter-spacing="1.2">0,4</text>
<text transform="translate(311.31 45.67) rotate(0.05)" font-size="16.44" textLength="21.6" lengthAdjust="spacingAndGlyphs" stroke-width="0.65" letter-spacing="1.2">mm</text>
<text transform="translate(366.69 45.09) rotate(0.05)" font-size="16" textLength="19.72" lengthAdjust="spacingAndGlyphs" stroke-width="0.65" letter-spacing="1.2">WR:</text>
<text transform="translate(389.49 45.01) rotate(0.05)" font-size="15.31" textLength="6.91" lengthAdjust="spacingAndGlyphs" stroke-width="0.65" letter-spacing="1.2">0</text>
<text transform="translate(398.9 45.09) rotate(0.05)" font-size="15.74" textLength="22.15" lengthAdjust="spacingAndGlyphs" stroke-width="0.65" letter-spacing="1.2">mm</text>
<text transform="translate(444.31 45.13) rotate(0.05)" font-size="15.95" textLength="19.23" lengthAdjust="spacingAndGlyphs" stroke-width="0.65" letter-spacing="1.2">WR:</text>
<text transform="translate(466.66 45.09) rotate(0.05)" font-size="15.75" textLength="10.09" lengthAdjust="spacingAndGlyphs" stroke-width="0.65" letter-spacing="1.2">0,</text>
<text transform="translate(483.87 45.09) rotate(0.05)" font-size="15.74" textLength="22" lengthAdjust="spacingAndGlyphs" stroke-width="0.65" letter-spacing="1.2">mm</text>
<text transform="translate(529.69 45.09) rotate(0.05)" font-size="16" textLength="19.72" lengthAdjust="spacingAndGlyphs" stroke-width="0.65" letter-spacing="1.2">WR:</text>
<text transform="translate(552.24 45.09) rotate(0.05)" font-size="15.45" textLength="16.33" lengthAdjust="spacingAndGlyphs" stroke-width="0.65" letter-spacing="1.2">0,2</text>
<text transform="translate(571.51 45.09) rotate(0.05)" font-size="15.74" textLength="22" lengthAdjust="spacingAndGlyphs" stroke-width="0.65" letter-spacing="1.2">mm</text>
<text transform="translate(617.13 45.08) rotate(0.05)" font-size="15.91" textLength="19.07" lengthAdjust="spacingAndGlyphs" stroke-width="0.65" letter-spacing="1.2">WR:</text>
<text transform="translate(639.96 45.09) rotate(0.05)" font-size="15.74" textLength="16.16" lengthAdjust="spacingAndGlyphs" stroke-width="0.65" letter-spacing="1.2">0,4</text>
<text transform="translate(659.51 45.09) rotate(0.05)" font-size="15.74" textLength="22" lengthAdjust="spacingAndGlyphs" stroke-width="0.65" letter-spacing="1.2">mm</text>
<text transform="translate(27.22 475.12) rotate(0.05)" font-size="15.95" textLength="20.05" lengthAdjust="spacingAndGlyphs" stroke-width="0.65" letter-spacing="1.2">WR:</text>
<text transform="translate(50.49 474.96) rotate(0.05)" font-size="15.63" textLength="7.04" lengthAdjust="spacingAndGlyphs" stroke-width="0.65" letter-spacing="1.2">0</text>
<text transform="translate(60.12 475.08) rotate(0.05)" font-size="15.86" textLength="21.85" lengthAdjust="spacingAndGlyphs" stroke-width="0.65" letter-spacing="1.2">mm</text>
<text transform="translate(102.76 474.93) rotate(0.05)" font-size="16.02" textLength="19.65" lengthAdjust="spacingAndGlyphs" stroke-width="0.65" letter-spacing="1.2">WR:</text>
<text transform="translate(125.66 475.08) rotate(0.05)" font-size="15.58" textLength="9.75" lengthAdjust="spacingAndGlyphs" stroke-width="0.65" letter-spacing="1.2">0,</text>
<text transform="translate(143.36 475.1) rotate(0.05)" font-size="15.86" textLength="20.84" lengthAdjust="spacingAndGlyphs" stroke-width="0.65" letter-spacing="1.2">mm</text>
<text transform="translate(184.76 474.93) rotate(0.05)" font-size="16.02" textLength="19.65" lengthAdjust="spacingAndGlyphs" stroke-width="0.65" letter-spacing="1.2">WR:</text>
<text transform="translate(207.45 475.08) rotate(0.05)" font-size="15.7" textLength="16.05" lengthAdjust="spacingAndGlyphs" stroke-width="0.65" letter-spacing="1.2">0,2</text>
<text transform="translate(226.48 475.08) rotate(0.05)" font-size="15.86" textLength="21.99" lengthAdjust="spacingAndGlyphs" stroke-width="0.65" letter-spacing="1.2">mm</text>
<text transform="translate(268.76 474.93) rotate(0.05)" font-size="16.02" textLength="19.65" lengthAdjust="spacingAndGlyphs" stroke-width="0.65" letter-spacing="1.2">WR:</text>
<text transform="translate(291.34 475.08) rotate(0.05)" font-size="15.69" textLength="17.55" lengthAdjust="spacingAndGlyphs" stroke-width="0.65" letter-spacing="1.2">0,4</text>
<text transform="translate(310.46 475.08) rotate(0.05)" font-size="15.86" textLength="22.47" lengthAdjust="spacingAndGlyphs" stroke-width="0.65" letter-spacing="1.2">mm</text>
<text transform="translate(379.55 475.08) rotate(0.05)" font-size="15.88" textLength="19.89" lengthAdjust="spacingAndGlyphs" stroke-width="0.65" letter-spacing="1.2">WR:</text>
<text transform="translate(402.82 475.01) rotate(0.05)" font-size="15.86" textLength="7.13" lengthAdjust="spacingAndGlyphs" stroke-width="0.65" letter-spacing="1.2">0</text>
<text transform="translate(412.16 475.1) rotate(0.05)" font-size="15.86" textLength="22.45" lengthAdjust="spacingAndGlyphs" stroke-width="0.65" letter-spacing="1.2">mm</text>
<text transform="translate(454.76 474.93) rotate(0.05)" font-size="16.02" textLength="19.65" lengthAdjust="spacingAndGlyphs" stroke-width="0.65" letter-spacing="1.2">WR:</text>
<text transform="translate(477.31 475.08) rotate(0.05)" font-size="15.69" textLength="9.71" lengthAdjust="spacingAndGlyphs" stroke-width="0.65" letter-spacing="1.2">0,</text>
<text transform="translate(494.3 475.1) rotate(0.05)" font-size="15.86" textLength="21.56" lengthAdjust="spacingAndGlyphs" stroke-width="0.65" letter-spacing="1.2">mm</text>
<text transform="translate(535.76 474.93) rotate(0.05)" font-size="16.02" textLength="19.65" lengthAdjust="spacingAndGlyphs" stroke-width="0.65" letter-spacing="1.2">WR:</text>
<text transform="translate(558.45 475.08) rotate(0.05)" font-size="15.7" textLength="16.05" lengthAdjust="spacingAndGlyphs" stroke-width="0.65" letter-spacing="1.2">0,2</text>
<text transform="translate(577.48 475.08) rotate(0.05)" font-size="15.86" textLength="21.99" lengthAdjust="spacingAndGlyphs" stroke-width="0.65" letter-spacing="1.2">mm</text>
<text transform="translate(619.22 475.03) rotate(0.05)" font-size="16.18" textLength="19.81" lengthAdjust="spacingAndGlyphs" stroke-width="0.65" letter-spacing="1.2">WR:</text>
<text transform="translate(642.42 475.08) rotate(0.05)" font-size="15.86" textLength="16.35" lengthAdjust="spacingAndGlyphs" stroke-width="0.65" letter-spacing="1.2">0,4</text>
<text transform="translate(661.46 475.08) rotate(0.05)" font-size="15.86" textLength="22.47" lengthAdjust="spacingAndGlyphs" stroke-width="0.65" letter-spacing="1.2">mm</text>
<text transform="translate(165.13 402.01) rotate(0.05)" font-size="18.5" textLength="13.73" lengthAdjust="spacingAndGlyphs" stroke-width="0.85" letter-spacing="1.2">R,</text>
<text transform="translate(180.95 402.01) rotate(0.05)" font-size="18.5" textLength="24.75" lengthAdjust="spacingAndGlyphs" stroke-width="0.85" letter-spacing="1.2">mm</text>
<text transform="translate(516.3 401.51) rotate(0.05)" font-size="19.61" textLength="13.61" lengthAdjust="spacingAndGlyphs" stroke-width="0.85" letter-spacing="1.2">R,</text>
<text transform="translate(532.14 401.51) rotate(0.05)" font-size="19.61" textLength="24.48" lengthAdjust="spacingAndGlyphs" stroke-width="0.85" letter-spacing="1.2">mm</text>
<text transform="translate(165.57 831.17) rotate(0.05)" font-size="18.82" textLength="13.31" lengthAdjust="spacingAndGlyphs" stroke-width="0.85" letter-spacing="1.2">R,</text>
<text transform="translate(181.36 831.17) rotate(0.05)" font-size="18.82" textLength="24.64" lengthAdjust="spacingAndGlyphs" stroke-width="0.85" letter-spacing="1.2">mm</text>
<text transform="translate(516.8 830.16) rotate(0.05)" font-size="19.62" textLength="13.46" lengthAdjust="spacingAndGlyphs" stroke-width="0.85" letter-spacing="1.2">R,</text>
<text transform="translate(532.37 830.16) rotate(0.05)" font-size="19.62" textLength="24.68" lengthAdjust="spacingAndGlyphs" stroke-width="0.85" letter-spacing="1.2">mm</text>
<text transform="translate(17.18 224.41) rotate(-89.95)" font-size="18.46" textLength="26.04" lengthAdjust="spacingAndGlyphs" stroke-width="0.85" letter-spacing="1.2">Bcr,</text>
<text transform="translate(17.18 195.78) rotate(-89.95)" font-size="18.69" textLength="18.89" lengthAdjust="spacingAndGlyphs" stroke-width="0.85" letter-spacing="1.2">mT</text>
<text transform="translate(16.79 654.96) rotate(-89.95)" font-size="19.8" textLength="25.99" lengthAdjust="spacingAndGlyphs" stroke-width="0.85" letter-spacing="1.2">Bcr,</text>
<text transform="translate(16.79 626.09) rotate(-89.95)" font-size="19.86" textLength="18.85" lengthAdjust="spacingAndGlyphs" stroke-width="0.85" letter-spacing="1.2">mT</text>
<text transform="translate(369.48 653.86) rotate(-89.95)" font-size="19.57" textLength="26.04" lengthAdjust="spacingAndGlyphs" stroke-width="0.85" letter-spacing="1.2">Bcr,</text>
<text transform="translate(369.48 624.96) rotate(-89.95)" font-size="19.57" textLength="18.88" lengthAdjust="spacingAndGlyphs" stroke-width="0.85" letter-spacing="1.2">mT</text>
<text transform="translate(369.4 222.59) rotate(-89.95)" font-size="19.59" textLength="43.87" lengthAdjust="spacingAndGlyphs" stroke-width="0.85" letter-spacing="1.2">Bcr,mT</text>
<text transform="translate(76.46 83.59) rotate(0.05)" font-size="17.68" textLength="7.23" lengthAdjust="spacingAndGlyphs" stroke-width="0.65" letter-spacing="1.2">a</text>
<text transform="translate(427.4 83.93) rotate(0.05)" font-size="18.41" textLength="8.47" lengthAdjust="spacingAndGlyphs" stroke-width="0.65" letter-spacing="1.2">b</text>
<text transform="translate(75.66 512.87) rotate(0.05)" font-size="16.58" textLength="7.66" lengthAdjust="spacingAndGlyphs" stroke-width="0.65" letter-spacing="1.2">c</text>
<text transform="translate(428.1 512.78) rotate(0.05)" font-size="17.24" textLength="7.67" lengthAdjust="spacingAndGlyphs" stroke-width="0.65" letter-spacing="1.2">d</text>
<text transform="translate(207.53 207.01) rotate(0.05)" font-size="17.51" textLength="56.12" lengthAdjust="spacingAndGlyphs" stroke-width="0.8" letter-spacing="1.2">Unstable</text>
<text transform="translate(79.16 294.65) rotate(0.05)" font-size="17.68" textLength="53" lengthAdjust="spacingAndGlyphs" stroke-width="0.8" letter-spacing="1.2">Laminar</text>
<text transform="translate(543.12 212.36) rotate(0.05)" font-size="17.19" textLength="61.34" lengthAdjust="spacingAndGlyphs" stroke-width="0.8" letter-spacing="1.2">Turbulent</text>
<text transform="translate(427.38 293.12) rotate(0.05)" font-size="16.57" textLength="55.74" lengthAdjust="spacingAndGlyphs" stroke-width="0.8" letter-spacing="1.2">Unstable</text>
<text transform="translate(207.26 636.45) rotate(0.05)" font-size="17.65" textLength="56.35" lengthAdjust="spacingAndGlyphs" stroke-width="0.8" letter-spacing="1.2">Unstable</text>
<text transform="translate(78.31 724.15) rotate(0.05)" font-size="16.69" textLength="53.4" lengthAdjust="spacingAndGlyphs" stroke-width="0.8" letter-spacing="1.2">Laminar</text>
<text transform="translate(559.47 635.83) rotate(0.05)" font-size="16.52" textLength="61.04" lengthAdjust="spacingAndGlyphs" stroke-width="0.8" letter-spacing="1.2">Turbulent</text>
<text transform="translate(430.93 723.88) rotate(0.05)" font-size="16.82" textLength="55.88" lengthAdjust="spacingAndGlyphs" stroke-width="0.8" letter-spacing="1.2">Unstable</text>
<path transform="translate(135.4 34.2) scale(0.88 0.83)" d="M4.1 0V13.9H2.3V2.3L0.45 3.35L0 1.75L2.6 0Z" fill="#111"/>
<path transform="translate(475.4 33.9) scale(0.93 0.81)" d="M4.1 0V13.9H2.3V2.3L0.45 3.35L0 1.75L2.6 0Z" fill="#111"/>
<path transform="translate(134.3 463.5) scale(0.91 0.82)" d="M4.1 0V13.9H2.3V2.3L0.45 3.35L0 1.75L2.6 0Z" fill="#111"/>
<path transform="translate(485.9 463.5) scale(0.93 0.82)" d="M4.1 0V13.9H2.3V2.3L0.45 3.35L0 1.75L2.6 0Z" fill="#111"/>
<path transform="translate(140.1 431.8) scale(0.98 0.99)" d="M4.1 0V13.9H2.3V2.3L0.45 3.35L0 1.75L2.6 0Z" fill="#111"/>
<path transform="translate(490.1 432.1) scale(0.98 0.97)" d="M4.1 0V13.9H2.3V2.3L0.45 3.35L0 1.75L2.6 0Z" fill="#111"/>
</svg></body></html>
